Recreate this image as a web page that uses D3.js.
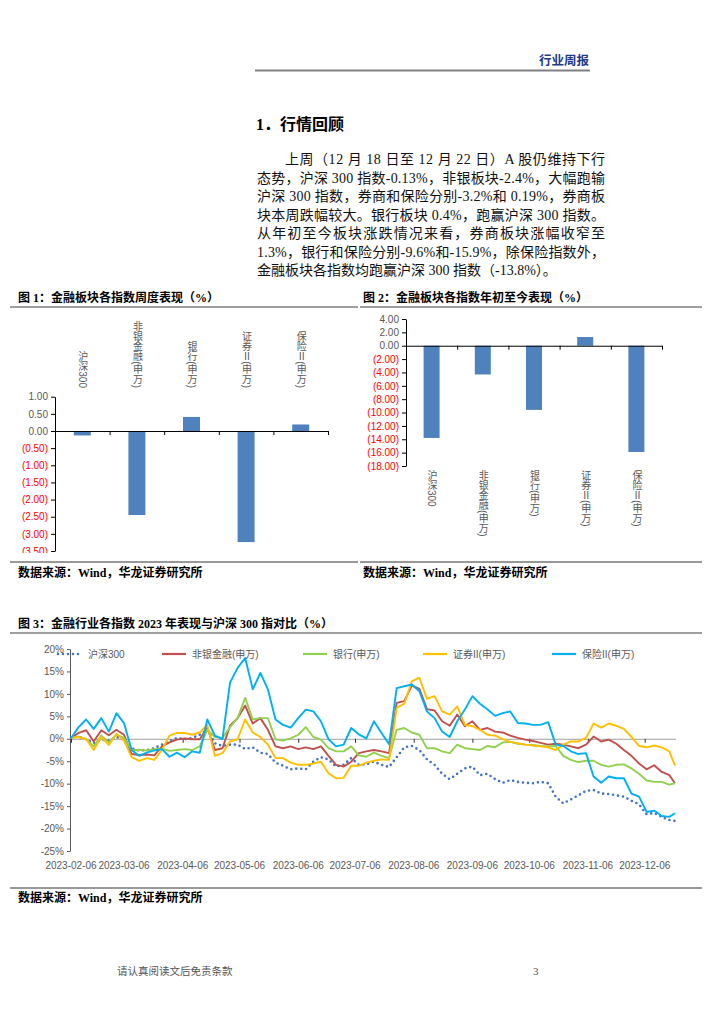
<!DOCTYPE html>
<html>
<head>
<meta charset="utf-8">
<script src="https://cdn.jsdelivr.net/npm/d3@7"></script>
<style>
    body { margin: 0; background: #fff; }
    svg { display: block; font-family: "Liberation Sans", "Noto Sans CJK SC", sans-serif; }
</style>
</head>
<body>
<svg id="page" width="724" height="1024"></svg>
<script>
// Figure 1 / 2 data
const sectorCats = ["沪深300", "非银金融(申万)", "银行(申万)", "证券Ⅱ(申万)", "保险Ⅱ(申万)"];
const weekVals = [-0.13, -2.45, 0.41, -3.24, 0.19];
const ytdVals = [-13.8, -4.3, -9.6, 1.3, -15.9];
const weekTicks = [1, 0.5, 0, -0.5, -1, -1.5, -2, -2.5, -3, -3.5];
const ytdTicks = [4, 2, 0, -2, -4, -6, -8, -10, -12, -14, -16, -18];

// Figure 3 data (every 4 days)
const dates = [
    "2023-02-06", "2023-02-10", "2023-02-14", "2023-02-18", "2023-02-22", "2023-02-26", "2023-03-02", "2023-03-06",
    "2023-03-10", "2023-03-14", "2023-03-18", "2023-03-22", "2023-03-26", "2023-03-30", "2023-04-03", "2023-04-07",
    "2023-04-11", "2023-04-15", "2023-04-19", "2023-04-23", "2023-04-27", "2023-05-01", "2023-05-05", "2023-05-09",
    "2023-05-13", "2023-05-17", "2023-05-21", "2023-05-25", "2023-05-29", "2023-06-02", "2023-06-06", "2023-06-10",
    "2023-06-14", "2023-06-18", "2023-06-22", "2023-06-26", "2023-06-30", "2023-07-04", "2023-07-08",
    "2023-07-12", "2023-07-16", "2023-07-20", "2023-07-24", "2023-07-28", "2023-08-01", "2023-08-05", "2023-08-09",
    "2023-08-13", "2023-08-17", "2023-08-21", "2023-08-25", "2023-08-29", "2023-09-02", "2023-09-06", "2023-09-10",
    "2023-09-14", "2023-09-18", "2023-09-22", "2023-09-26", "2023-09-30", "2023-10-04", "2023-10-08", "2023-10-12",
    "2023-10-16", "2023-10-20", "2023-10-24", "2023-10-28", "2023-11-01", "2023-11-05", "2023-11-09", "2023-11-13",
    "2023-11-17", "2023-11-21", "2023-11-25", "2023-11-29", "2023-12-03", "2023-12-07", "2023-12-11", "2023-12-15",
    "2023-12-19", "2023-12-22"
];
const hs300 = [
    0.2, 0.5, -0.1, -1.0, -0.2, -0.4, 0.4, -0.2, -2.1, -2.6, -2.5, -2.1, -1.3, -0.6, 0.2, -0.1,
    0.2, 0.9, 2.0, -1.0, -1.6, -1.3, -1.3, -2.3, -1.9, -3.1, -3.4, -5.3, -6.0, -6.8, -6.6, -6.8,
    -5.1, -4.1, -4.6, -6.2, -5.8, -4.3, -5.8,
    -5.7, -5.1, -5.8, -6.3, -4.1, -1.9, -1.6, -2.5, -4.6, -5.8, -7.8, -9.0, -7.8, -6.6, -6.2, -8.1,
    -7.8, -9.0, -9.8, -9.2, -9.6, -9.8, -9.9, -9.6, -9.9, -12.9, -14.4, -13.5, -12.6, -11.6, -11.4, -12.2,
    -12.3, -12.6, -12.9, -13.8, -14.6, -16.8, -16.5, -17.4, -18.1, -18.3
];
const nonBank = [
    0.2, 1.3, 1.9, -0.6, 1.9, 0.8, 2.0, 0.9, -3.4, -3.6, -3.5, -3.7, -1.7, -0.8, -0.2, 0.1,
    -0.1, -0.1, 2.5, -2.5, -2.1, 2.9, 4.6, 7.4, 3.4, 4.6, 2.0, -1.7, -2.1, -1.7, -2.3, -1.9,
    -2.3, -1.7, -3.8, -5.8, -6.2, -5.1, -3.2,
    -2.8, -2.5, -2.8, -3.2, 8.0, 8.4, 11.9, 11.1, 6.6, 6.3, 3.9, 2.9, 5.4, 2.8, 3.9, 2.0,
    2.4, 1.6, 1.4, 0.7, 0.2, -0.2, -0.5, -0.9, -1.3, -1.1, -1.3, -1.7, -2.1, -1.3, 0.5, -0.6,
    -0.2, -1.1, -2.5, -3.8, -5.5, -6.8, -5.9, -7.4, -8.1, -9.9
];
const bank = [
    0.2, 0.5, -0.1, -1.7, 0.7, -0.8, 0.9, 0.2, -2.5, -2.5, -2.6, -2.3, -2.2, -2.7, -2.5, -2.3,
    -2.5, -1.7, 2.0, 0.4, 0.2, 2.6, 4.6, 9.1, 4.3, 4.6, 4.6, -0.1, -0.4, 0.1, 0.9, 2.6,
    0.4, -0.2, -2.1, -2.8, -2.8, -1.7, -3.7,
    -4.0, -3.1, -3.8, -4.3, 2.0, 2.4, 1.4, 0.9, -2.1, -2.1, -2.8, -3.2, -1.3, -2.1, -2.3, -2.5,
    -1.6, -1.9, -0.8, -0.7, -1.1, -1.3, -1.4, -1.6, -1.7, -1.6, -3.8, -4.7, -5.2, -4.9, -4.9, -5.8,
    -6.2, -5.8, -5.7, -6.6, -7.8, -9.3, -9.6, -9.6, -10.2, -9.9
];
const broker = [
    0.2, 0.4, -0.1, -2.5, 0.4, -1.4, 1.1, -0.4, -4.1, -4.9, -4.3, -4.7, -2.5, 0.7, 1.3, 1.3,
    0.9, 1.4, 3.1, -3.8, -3.2, -0.6, -0.1, 4.3, 1.4, 0.4, -1.3, -4.3, -4.3, -5.3, -5.8, -5.8,
    -5.5, -5.1, -7.7, -8.8, -8.7, -6.0, -6.0,
    -5.3, -4.9, -4.6, -4.7, 6.9, 7.8, 12.8, 13.6, 8.9, 9.5, 6.1, 5.4, 7.2, 3.1, 2.8, 2.0,
    0.9, 0.7, -0.1, -0.7, -1.0, -1.3, -1.5, -1.7, -1.9, -2.5, -1.3, -0.6, -0.6, 0.2, 3.4, 2.5,
    3.4, 2.9, 2.2, 0.4, -1.6, -1.9, -1.5, -1.9, -2.8, -6.0
];
const insure = [
    0.1, 2.6, 4.3, 2.2, 4.6, 1.6, 5.7, 3.5, -2.5, -3.8, -3.1, -2.6, -2.3, -4.0, -3.1, -4.1,
    -2.8, -3.1, 4.3, 0.7, -0.1, 12.5, 15.8, 18.0, 11.0, 14.7, 11.0, 4.3, 3.1, 2.5, 4.6, 6.5,
    6.1, 3.9, -0.1, -1.7, -1.3, 2.4, 1.0,
    0.1, 3.9, 1.3, -1.2, 11.3, 11.7, 12.1, 10.6, 6.1, 4.6, 1.6, 0.4, 3.9, 6.5, 9.5, 7.8,
    6.5, 5.1, 5.7, 6.1, 3.5, 3.4, 3.1, 3.1, 3.7, -1.3, -1.6, -2.8, -3.4, -3.2, -8.4, -9.8,
    -8.4, -8.8, -8.8, -12.2, -12.9, -16.3, -16.0, -17.2, -17.4, -16.6
];
const lineNames = ["沪深300", "非银金融(申万)", "银行(申万)", "证券II(申万)", "保险II(申万)"];
const lineColors = ["#4472C4", "#C0504D", "#92D050", "#FFC000", "#00B0F0"];
const monthTicks = ["2023-02-06", "2023-03-06", "2023-04-06", "2023-05-06", "2023-06-06", "2023-07-06",
    "2023-08-06", "2023-09-06", "2023-10-06", "2023-11-06", "2023-12-06"];
const pctTicks = [20, 15, 10, 5, 0, -5, -10, -15, -20, -25];

const paraLines = [
    "上周（12 月 18 日至 12 月 22 日）A 股仍维持下行",
    "态势，沪深 300 指数-0.13%，非银板块-2.4%，大幅跑输",
    "沪深 300 指数，券商和保险分别-3.2%和 0.19%，券商板",
    "块本周跌幅较大。银行板块 0.4%，跑赢沪深 300 指数。",
    "从年初至今板块涨跌情况来看，券商板块涨幅收窄至",
    "1.3%，银行和保险分别-9.6%和-15.9%，除保险指数外，",
    "金融板块各指数均跑赢沪深 300 指数（-13.8%）。"
];

const svg = d3.select("#page");
const serif = '"Liberation Serif", "Noto Sans CJK SC", serif';
const cjk = '"Noto Sans CJK SC", sans-serif';

// header
svg.append("text")
    .attr("x", 589).attr("y", 65)
    .attr("text-anchor", "end")
    .style("font-family", cjk).style("font-weight", "bold").style("font-size", "12.5px")
    .attr("fill", "#1F3C88")
    .text("行业周报");
svg.append("line")
    .attr("x1", 255).attr("x2", 590).attr("y1", 70.5).attr("y2", 70.5)
    .attr("stroke", "#808080").attr("stroke-width", 2);

svg.append("text")
    .attr("x", 256).attr("y", 130)
    .style("font-family", serif).style("font-weight", "bold").style("font-size", "16px")
    .text("1．行情回顾");

paraLines.forEach((t, i) => {
    const x0 = i === 0 ? 285 : 257;
    const txt = svg.append("text")
        .attr("x", x0).attr("y", 164 + i * 18.5)
        .style("font-family", serif).style("font-size", "14px")
        .attr("fill", "#111")
        .text(t);
    if (i < paraLines.length - 1) {
        txt.attr("textLength", 605 - x0).attr("lengthAdjust", "spacing");
    }
});

const fmtPar = v => v < 0 ? `(${(-v).toFixed(2)})` : v.toFixed(2);

function caption(x, y, t) {
    svg.append("text")
        .attr("x", x).attr("y", y)
        .style("font-family", serif).style("font-weight", "bold").style("font-size", "12px")
        .text(t);
}

function rule(x1, x2, y, color, w) {
    svg.append("line")
        .attr("x1", x1).attr("x2", x2).attr("y1", y).attr("y2", y)
        .attr("stroke", color).attr("stroke-width", w);
}

caption(18, 302, "图 1：金融板块各指数周度表现（%）");
caption(363, 302, "图 2：金融板块各指数年初至今表现（%）");
rule(10, 358, 307, "#7F7F7F", 1.5);
rule(360, 702, 307, "#7F7F7F", 1.5);
rule(10, 358, 562, "#333", 1);
rule(360, 702, 562, "#333", 1);
caption(18, 577, "数据来源：Wind，华龙证券研究所");
caption(363, 577, "数据来源：Wind，华龙证券研究所");

svg.append("defs").append("clipPath").attr("id", "clip1")
    .append("rect").attr("x", 0).attr("y", 310).attr("width", 360).attr("height", 243);

function barChart(vals, ticks, left, right, yTop, yBottom, labelY, labelAnchor, barW, clip) {
    const g = svg.append("g");
    if (clip) g.attr("clip-path", `url(#${clip})`);

    const x = d3.scaleBand().domain(sectorCats).range([left, right]).padding(0);
    const y = d3.scaleLinear().domain([d3.min(ticks), d3.max(ticks)]).range([yBottom, yTop]);

    g.selectAll("rect")
        .data(vals)
        .enter()
        .append("rect")
        .attr("x", (d, i) => x(sectorCats[i]) + (x.bandwidth() - barW) / 2)
        .attr("y", d => y(Math.max(0, d)))
        .attr("width", barW)
        .attr("height", d => Math.abs(y(d) - y(0)))
        .attr("fill", "#4F81BD");

    const yAxis = g.append("g")
        .attr("transform", `translate(${left},0)`)
        .call(d3.axisLeft(y).tickValues(ticks).tickFormat(fmtPar).tickSize(4).tickSizeOuter(0));
    yAxis.selectAll("text")
        .attr("fill", d => d < 0 ? "#FF0000" : "#595959")
        .style("font-size", "10px");
    yAxis.selectAll("path, line").attr("stroke", "#000");

    const idx = d3.scaleLinear().domain([0, sectorCats.length]).range([left, right]);
    const xAxis = g.append("g")
        .attr("transform", `translate(0,${y(0)})`)
        .call(d3.axisBottom(idx).tickValues(d3.range(1, sectorCats.length + 1)).tickFormat("").tickSize(4).tickSizeOuter(0));
    xAxis.selectAll("path, line").attr("stroke", "#000");

    svg.append("g").selectAll("text")
        .data(sectorCats)
        .enter()
        .append("text")
        .attr("x", d => x(d) + x.bandwidth() / 2)
        .attr("y", labelY)
        .attr("text-anchor", labelAnchor)
        .style("writing-mode", "vertical-rl")
        .style("font-size", "10px")
        .attr("fill", "#595959")
        .text(d => d);
}

barChart(weekVals, weekTicks, 55, 328, 396.7, 551, 388, "end", 17, "clip1");
barChart(ytdVals, ytdTicks, 406, 662, 319, 466, 470, "start", 16, null);

// Figure 3
caption(18, 628, "图 3：金融行业各指数 2023 年表现与沪深 300 指对比（%）");
rule(10, 702, 633, "#7F7F7F", 1.5);
rule(10, 702, 888, "#333", 1);
caption(18, 902, "数据来源：Wind，华龙证券研究所");

const parse = d3.timeParse("%Y-%m-%d");
const xt = d3.scaleTime().domain([parse(dates[0]), parse(dates[dates.length - 1])]).range([71, 675]);
const yp = d3.scaleLinear().domain([-25, 20]).range([851, 649]);

const g3 = svg.append("g");

const xAxis3 = g3.append("g")
    .attr("transform", `translate(0,${yp(0)})`)
    .call(d3.axisBottom(xt).tickValues(monthTicks.map(parse)).tickFormat("").tickSize(4).tickSizeOuter(0));
xAxis3.select("path").attr("stroke", "#A0A0A0").attr("d", `M70,0.5H676`);
xAxis3.selectAll("line").attr("stroke", "#333");

g3.append("g").selectAll("text")
    .data(monthTicks)
    .enter()
    .append("text")
    .attr("x", d => xt(parse(d)))
    .attr("y", 869)
    .attr("text-anchor", "middle")
    .style("font-size", "10px")
    .attr("fill", "#595959")
    .text(d => d);

const yAxis3 = g3.append("g")
    .attr("transform", "translate(70,0)")
    .call(d3.axisLeft(yp).tickValues(pctTicks).tickFormat(d => d + "%").tickSize(3).tickSizeOuter(0));
yAxis3.selectAll("path, line").attr("stroke", "#595959");
yAxis3.selectAll("text").attr("fill", "#595959").style("font-size", "10px");

const allSeries = [hs300, nonBank, bank, broker, insure];
const line = d3.line()
    .x((d, i) => xt(parse(dates[i])))
    .y(d => yp(d));

allSeries.forEach((s, k) => {
    const p = g3.append("path")
        .datum(s)
        .attr("d", line)
        .attr("fill", "none")
        .attr("stroke", lineColors[k])
        .attr("stroke-width", k === 0 ? 2.6 : 1.9)
        .attr("stroke-linejoin", "round");
    if (k === 0) p.attr("stroke-dasharray", "0 5").attr("stroke-linecap", "round");
});

// legend
const legendX = [58, 162, 303, 423, 552];
const leg = g3.append("g");
lineNames.forEach((n, k) => {
    const l = leg.append("line")
        .attr("x1", legendX[k]).attr("x2", legendX[k] + 24)
        .attr("y1", 654).attr("y2", 654)
        .attr("stroke", lineColors[k])
        .attr("stroke-width", k === 0 ? 2.6 : 2.2);
    if (k === 0) l.attr("stroke-dasharray", "0 5").attr("stroke-linecap", "round");
    leg.append("text")
        .attr("x", legendX[k] + 30).attr("y", 658)
        .style("font-size", "10px")
        .attr("fill", "#595959")
        .text(n);
});

// footer
svg.append("text")
    .attr("x", 117).attr("y", 975)
    .style("font-family", cjk).style("font-size", "10.5px")
    .attr("fill", "#555")
    .text("请认真阅读文后免责条款");
svg.append("text")
    .attr("x", 533).attr("y", 975)
    .style("font-family", serif).style("font-size", "11px")
    .attr("fill", "#555")
    .text("3");
</script>
</body>
</html>
